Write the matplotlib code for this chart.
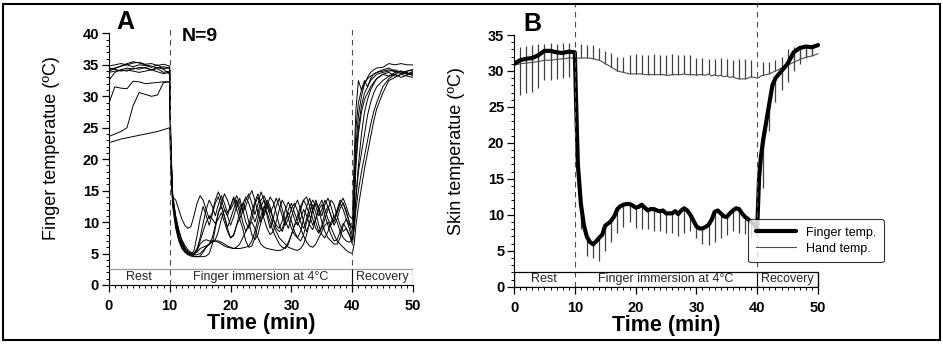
import numpy as np
from matplotlib import pyplot as plt
from matplotlib.patches import Rectangle

plt.rcParams['font.family'] = ['Liberation Sans', 'DejaVu Sans']

# shared time grid (min): rest, immersion, recovery
time_rest = [0, 1, 2, 3, 4, 5, 6, 7, 8, 9, 10]
time_imm = [10.2, 10.5] + list(np.arange(11, 40.01, 0.5))
time_rec = [40.3, 40.6, 41, 41.5, 42, 42.5, 43, 43.5, 44, 45, 46, 47, 48, 49, 50]
time = np.array(time_rest + time_imm + time_rec)

# ---- panel A : finger temperature of each of the 9 subjects ----
subj1 = ([34.8, 35.0, 35.2, 35.0, 35.3, 35.4, 35.1, 35.2, 34.9, 35.1, 34.8] +
         [21, 13.5,
          10.5, 8.5, 7.2, 6.3, 5.6, 5.2, 5.0, 5.6, 7.5, 9.8,
          12.0, 13.5, 12.5, 11.0, 12.8, 14.2, 13.0, 11.5, 12.5, 13.8,
          12.0, 10.5, 11.8, 13.5, 14.5, 13.0, 11.2, 12.8, 14.8, 13.5,
          11.0, 9.0, 10.5, 12.5, 13.8, 12.0, 10.2, 9.0, 10.8, 12.5,
          13.5, 12.0, 10.0, 8.5, 9.8, 12.0, 13.5, 12.2, 11.0, 12.8,
          13.8, 12.5, 10.8, 11.5, 13.0, 12.0, 10.5, 9.5, 9.8] +
         [14, 22, 27, 30, 32, 33, 33.8, 34.2, 34.5, 34.6, 35.2, 35.0, 35.2, 35.0, 35.0])
subj2 = ([34.2, 34.5, 34.8, 35.0, 34.7, 35.0, 34.9, 34.6, 35.0, 34.4, 34.5] +
         [20, 13.0,
          9.5, 7.5, 6.3, 5.5, 5.0, 4.8, 5.5, 7.8, 10.5, 12.5,
          11.0, 9.5, 11.2, 13.0, 14.0, 12.5, 10.8, 9.2, 10.5, 12.0,
          13.5, 12.2, 10.0, 8.5, 9.5, 11.5, 13.2, 14.5, 13.0, 11.0,
          12.5, 14.0, 13.2, 11.5, 9.5, 8.5, 10.0, 12.0, 13.0, 11.5,
          10.2, 11.8, 13.5, 14.0, 12.5, 10.5, 9.0, 8.2, 9.5, 11.5,
          12.5, 11.0, 9.5, 10.5, 12.2, 13.0, 11.8, 10.0, 7.8] +
         [13, 20, 25, 28.5, 30.5, 31.5, 32.5, 33.0, 33.5, 33.8, 34.0, 34.2, 33.8, 34.0, 34.2])
subj3 = ([32.5, 33.8, 34.2, 34.0, 34.5, 34.3, 34.6, 34.2, 34.4, 33.8, 34.0] +
         [22, 14.0,
          10.0, 7.8, 6.5, 5.5, 5.0, 4.8, 4.8, 5.5, 6.5, 7.0,
          7.2, 7.0, 7.0, 7.2, 8.5, 10.5, 12.0, 11.0, 9.5, 10.8,
          12.5, 13.8, 12.0, 10.0, 9.0, 10.5, 12.8, 14.0, 12.5, 10.5,
          9.0, 8.0, 8.5, 10.0, 12.0, 13.5, 12.5, 10.5, 9.0, 8.0,
          7.5, 8.5, 10.5, 12.5, 13.8, 12.0, 10.0, 8.5, 9.0, 10.5,
          12.0, 13.5, 12.8, 11.0, 9.5, 8.5, 9.0, 8.0, 6.5] +
         [9, 14, 19, 24, 27.5, 29.5, 31.0, 32.0, 32.8, 33.5, 33.8, 33.2, 33.5, 33.8, 33.2])
subj4 = ([34.5, 34.3, 34.0, 34.2, 34.0, 33.8, 34.0, 34.2, 33.9, 33.6, 33.8] +
         [21, 14.5,
          10.8, 8.5, 7.0, 6.0, 5.2, 5.0, 5.0, 5.2, 5.8, 6.0,
          6.2, 6.5, 7.5, 9.5, 11.5, 12.5, 11.0, 9.0, 7.5, 7.8,
          9.5, 11.5, 13.0, 12.0, 10.0, 8.0, 7.2, 8.0, 10.0, 12.2,
          13.5, 12.5, 10.5, 9.0, 8.5, 9.0, 10.5, 11.5, 10.2, 8.5,
          7.5, 7.0, 8.0, 10.0, 11.5, 12.8, 11.5, 9.5, 8.0, 7.5,
          8.5, 10.0, 11.0, 10.0, 8.5, 7.5, 7.0, 6.8, 7.2] +
         [12, 19, 24, 27.5, 29.5, 30.5, 31.5, 32.2, 32.8, 33.5, 33.2, 33.8, 34.0, 33.5, 33.8])
subj5 = ([33.8, 34.0, 34.2, 34.5, 34.3, 34.6, 34.5, 34.2, 34.6, 34.3, 33.5] +
         [23, 14.0,
          11.0, 8.8, 7.0, 5.8, 5.2, 4.8, 4.6, 4.5, 4.5, 4.5,
          4.6, 5.0, 6.5, 9.0, 11.5, 13.0, 14.5, 13.5, 12.0, 13.0,
          14.2, 13.0, 11.5, 12.5, 14.0, 15.0, 13.5, 11.5, 10.0, 11.5,
          13.0, 12.0, 10.5, 9.5, 9.0, 10.2, 12.0, 13.2, 12.0, 10.5,
          9.5, 10.5, 12.0, 11.0, 9.5, 8.8, 10.5, 12.5, 13.5, 12.0,
          10.5, 9.5, 10.5, 12.0, 13.5, 13.0, 11.5, 10.0, 9.0] +
         [16, 25, 29, 31, 32, 32.8, 33.2, 33.5, 33.8, 34.0, 34.2, 33.9, 34.0, 33.6, 33.5])
subj6 = ([34.0, 34.4, 34.8, 35.2, 35.5, 35.3, 35.0, 34.8, 34.5, 34.7, 34.5] +
         [20, 14.0,
          13.5, 12.0, 10.5, 9.5, 9.0, 9.3, 11.0, 13.0, 14.2, 13.5,
          12.0, 10.5, 11.5, 13.5, 14.8, 13.5, 12.0, 11.0, 12.5, 14.0,
          13.0, 11.5, 12.8, 14.0, 13.0, 11.5, 10.0, 11.5, 13.5, 14.2,
          13.0, 11.5, 12.5, 13.8, 12.5, 11.0, 9.5, 10.5, 12.2, 13.0,
          11.8, 10.0, 9.0, 10.5, 12.5, 13.5, 12.5, 11.0, 12.0, 13.5,
          12.5, 11.0, 10.0, 11.5, 13.0, 13.8, 12.5, 11.0, 10.5] +
         [20, 28, 32.5, 31.0, 32.5, 31.5, 32.8, 33.5, 33.8, 34.2, 34.5, 34.0, 33.6, 34.0, 34.3])
subj7 = ([28.8, 31.5, 31.3, 31.2, 32.4, 32.3, 32.0, 32.1, 32.2, 32.3, 32.3] +
         [21, 13.8,
          9.5, 7.2, 6.0, 5.3, 5.0, 4.8, 5.0, 5.8, 7.0, 8.5,
          10.0, 11.0, 10.5, 9.8, 10.5, 11.5, 10.0, 8.5, 7.5, 8.0,
          9.5, 10.5, 9.0, 7.0, 6.0, 6.2, 7.5, 9.5, 11.0, 12.5,
          11.5, 10.0, 8.5, 7.5, 6.5, 6.0, 5.8, 6.5, 8.0, 9.5,
          11.0, 12.5, 13.5, 12.5, 11.0, 9.5, 10.5, 12.0, 12.8, 11.0,
          9.5, 8.0, 7.0, 7.2, 8.5, 9.8, 9.0, 8.0, 7.0] +
         [10, 14, 18, 21, 24, 27, 29, 30.5, 31.5, 32.5, 33.2, 33.5, 33.0, 33.4, 33.6])
subj8 = ([23.6, 24.0, 24.4, 25.0, 28.5, 30.6, 30.3, 30.0, 30.2, 32.2, 32.3] +
         [21, 14.0,
          10.2, 7.8, 6.5, 5.8, 5.3, 5.0, 4.8, 4.8, 5.0, 5.5,
          6.0, 6.5, 6.8, 7.0, 7.0, 6.8, 6.5, 6.2, 6.0, 5.8,
          5.8, 5.8, 5.9, 6.0, 6.2, 7.0, 8.5, 10.5, 12.5, 13.5,
          12.5, 11.0, 9.5, 8.5, 7.5, 7.0, 6.5, 6.0, 5.8, 5.6,
          5.5, 5.8, 6.5, 8.0, 10.0, 12.0, 13.0, 12.0, 10.0, 8.5,
          7.5, 7.0, 6.5, 6.5, 7.5, 9.5, 10.5, 9.0, 7.0] +
         [9, 12, 15, 18, 20.5, 23, 25.5, 27.5, 29, 31.5, 32.8, 33.5, 34.0, 33.5, 34.0])
subj9 = ([22.6, 22.9, 23.2, 23.4, 23.6, 23.8, 24.0, 24.2, 24.4, 24.7, 25.0] +
         [18, 12.5,
          9.0, 7.0, 5.8, 5.2, 4.8, 4.6, 4.5, 4.5, 4.6, 5.2,
          6.0, 6.5, 7.0, 7.0, 6.8, 6.5, 6.2, 6.0, 5.9, 5.8,
          6.0, 6.5, 7.5, 8.5, 9.5, 10.0, 9.0, 7.5, 6.5, 6.0,
          5.8, 5.7, 5.6, 5.5, 5.5, 5.6, 6.0, 6.8, 8.0, 9.5,
          10.0, 9.0, 7.8, 6.8, 6.2, 6.0, 6.5, 7.5, 8.5, 9.5,
          10.0, 9.2, 8.0, 7.0, 6.5, 6.0, 5.5, 5.2, 5.0] +
         [6.5, 9.5, 12.5, 15.5, 18.5, 21, 23.5, 26, 28, 30.5, 32.5, 33.0, 33.5, 33.2, 33.0])
subjects = [subj1, subj2, subj3, subj4, subj5, subj6, subj7, subj8, subj9]

# ---- panel B : mean finger and hand temperature ----
finger_mean = ([31.0, 31.5, 31.7, 31.8, 32.2, 32.8, 32.8, 32.6, 32.5, 32.7, 32.6] +
               [26, 17,
                11.5, 8.5, 6.9, 6.2, 5.9, 6.3, 6.8, 7.2, 8.5, 8.8,
                9.2, 9.8, 10.8, 11.2, 11.4, 11.5, 11.5, 11.3, 11.0, 11.1,
                11.4, 11.0, 10.6, 10.8, 10.8, 10.6, 10.5, 10.6, 10.2, 10.2,
                10.2, 10.5, 10.1, 10.6, 10.9, 10.6, 10.0, 9.2, 8.4, 8.1,
                8.1, 8.3, 8.6, 9.3, 10.4, 10.6, 10.2, 9.8, 9.7, 10.2,
                10.6, 10.9, 10.8, 10.2, 9.7, 9.4, 9.0, 8.7, 8.1] +
               [15, 18, 20.5, 23, 25.5, 28, 29, 29.5, 30.0, 31.0, 32.6, 33.2, 33.4, 33.3, 33.6])
hand_mean = ([30.8, 31.0, 31.1, 31.2, 31.3, 31.5, 31.5, 31.6, 31.7, 31.8, 31.8] +
             [31.8, 31.8,
              31.8, 31.8, 31.8, 31.8, 31.7, 31.6, 31.5, 31.3, 31.0, 30.8,
              30.5, 30.3, 30.0, 29.9, 29.8, 29.7, 29.6, 29.6, 29.6, 29.6,
              29.6, 29.5, 29.5, 29.5, 29.5, 29.5, 29.5, 29.5, 29.4, 29.4,
              29.5, 29.5, 29.5, 29.5, 29.6, 29.5, 29.5, 29.5, 29.4, 29.5,
              29.5, 29.4, 29.6, 29.3, 29.5, 29.3, 29.4, 29.2, 29.3, 29.1,
              29.2, 29.0, 28.9, 28.9, 28.9, 29.0, 29.2, 29.1, 29.0] +
             [29.1, 29.3, 29.4, 29.5, 29.6, 29.8, 30.0, 30.2, 30.4, 30.8, 31.2, 31.6, 31.9, 32.1, 32.4])

# error bars (SD) drawn once a minute: finger downward, hand upward
bar_time = [1, 2, 3, 4, 5, 6, 7, 8, 9] + list(range(11, 40)) + list(range(41, 50))
finger_low = ([26.7, 26.9, 27.1, 27.7, 28.7, 28.8, 28.9, 29.0, 29.2] +
              [8.0, 4.2, 4.0, 3.6, 5.0, 6.2, 7.5, 8.3, 9.0, 8.2,
               8.0, 8.0, 7.8, 7.8, 7.5, 7.5, 7.0, 7.5, 7.8, 6.8,
               6.0, 5.8, 6.2, 6.8, 7.2, 7.8, 7.5, 7.3, 6.8] +
              [13.7, 21.6, 25.7, 27.4, 28.5, 30.0, 31.0, 31.8, 32.3])
hand_high = ([33.3, 33.5, 33.6, 33.7, 33.8, 33.9, 33.8, 33.9, 33.9] +
             [33.7, 33.6, 33.6, 33.2, 32.8, 32.5, 32.0, 32.0, 32.2, 32.3,
              32.2, 32.2, 32.3, 32.2, 32.2, 32.3, 32.2, 32.2, 32.2, 31.8,
              31.8, 31.6, 31.7, 31.8, 31.6, 31.5, 31.7, 31.6, 31.5] +
             [31.3, 31.3, 31.5, 32.0, 33.0, 33.4, 33.5, 33.5, 33.5])

phases = ['Rest', 'Finger immersion at 4°C', 'Recovery']
phase_edges = [0, 10, 40, 50]


def style_axis(ax, ytop, ymax_tick):
    """Common look: left/bottom spines only, bold ticks, minor ticks every unit"""
    for side in ['top', 'right']:
        ax.spines[side].set_visible(False)
    ax.spines['left'].set_bounds(0, ymax_tick)
    ax.spines['bottom'].set_bounds(0, 50)
    ax.set_ylim(0, ytop)
    xt = [0, 10, 20, 30, 40, 50]
    yt = list(range(0, ymax_tick + 1, 5))
    ax.set_xticks(xt, labels=[str(v) for v in xt], fontsize=10.5, fontweight='bold')
    ax.set_yticks(yt, labels=[str(v) for v in yt], fontsize=10.5, fontweight='bold')
    ax.set_xticks(np.arange(0, 51, 1), minor=True)
    ax.set_yticks(np.arange(0, ymax_tick + 1, 1), minor=True)
    ax.tick_params(which='major', length=5, width=0.9)
    ax.tick_params(which='minor', length=2.5, width=0.7)
    ax.tick_params(axis='x', which='major', pad=5)
    ax.tick_params(axis='y', which='major', pad=2)
    ax.set_xlabel('Time (min)', fontsize=15.5, fontweight='bold')


def phase_band(ax, height, edge):
    """Draw the Rest / immersion / Recovery strip at the bottom"""
    ax.add_patch(Rectangle((0, 0), 50, height, fill=False, edgecolor=edge, lw=0.9, zorder=3))
    ax.vlines([0, 40, 50], 0, height, color='k', lw=0.8, zorder=3)
    for i in range(len(phases)):
        mid = (phase_edges[i] + phase_edges[i + 1]) / 2
        ax.text(mid, height / 2, phases[i], ha='center', va='center', fontsize=9, color='0.15')


fig = plt.figure(figsize=(9.43, 3.47), dpi=100)

# Panel A
axA = fig.add_axes([0.1153, 0.1787, 0.3229, 0.7468])
for s in subjects:
    axA.plot(time, s, color='k', lw=0.7)
axA.set_xlim(0, 50)
style_axis(axA, 41.2, 40)
axA.vlines([10, 40], 0, 41.2, colors='0.3', linestyles=(0, (5, 4)), lw=0.8)
phase_band(axA, 2.5, '0.6')
axA.set_ylabel('Finger temperatue (ºC)', fontsize=13)
axA.yaxis.set_label_coords(-0.16, 0.53)
axA.xaxis.set_label_coords(0.5, -0.11)
axA.text(1.3, 40.7, 'A', fontsize=18, fontweight='bold', ha='left', va='baseline', clip_on=False)
axA.text(12.0, 38.8, 'N=9', fontsize=14, fontweight='bold', ha='left', va='baseline')

# Panel B
axB = fig.add_axes([0.5451, 0.1738, 0.3997, 0.8143])
axB.vlines(bar_time, finger_low, np.interp(bar_time, time, finger_mean), colors='0.25', lw=0.9)
axB.vlines(bar_time, np.interp(bar_time, time, hand_mean), hand_high, colors='0.25', lw=0.9)
axB.plot(time, hand_mean, color='0.3', lw=0.8, label='Hand temp.')
axB.plot(time, finger_mean, color='k', lw=3, solid_capstyle='round', label='Finger temp.')
axB.set_xlim(0, 62)
style_axis(axB, 39.3, 35)
axB.vlines([10, 40], 0, 39.3, colors='0.3', linestyles=(0, (5, 4)), lw=0.8)
phase_band(axB, 2.1, 'k')
axB.set_ylabel('Skin temperatue (ºC)', fontsize=13)
axB.yaxis.set_label_coords(-0.13, 0.48)
axB.xaxis.set_label_coords(0.405, -0.1)
axB.text(1.5, 35.6, 'B', fontsize=18, fontweight='bold', ha='left', va='baseline')
handles, labels = axB.get_legend_handles_labels()
leg = axB.legend(handles[::-1], labels[::-1], loc='lower right', bbox_to_anchor=(0.997, 0.065),
                 fontsize=9, handlelength=3.2, frameon=True, fancybox=True, borderpad=0.6,
                 labelspacing=0.3)
leg.get_frame().set_edgecolor('k')
leg.get_frame().set_linewidth(0.8)

# outer frame around the whole figure
fig.add_artist(Rectangle((0.0035, 0.02), 0.993, 0.968, transform=fig.transFigure,
                         fill=False, edgecolor='k', lw=1.5))

plt.savefig('out.png', dpi=100)
